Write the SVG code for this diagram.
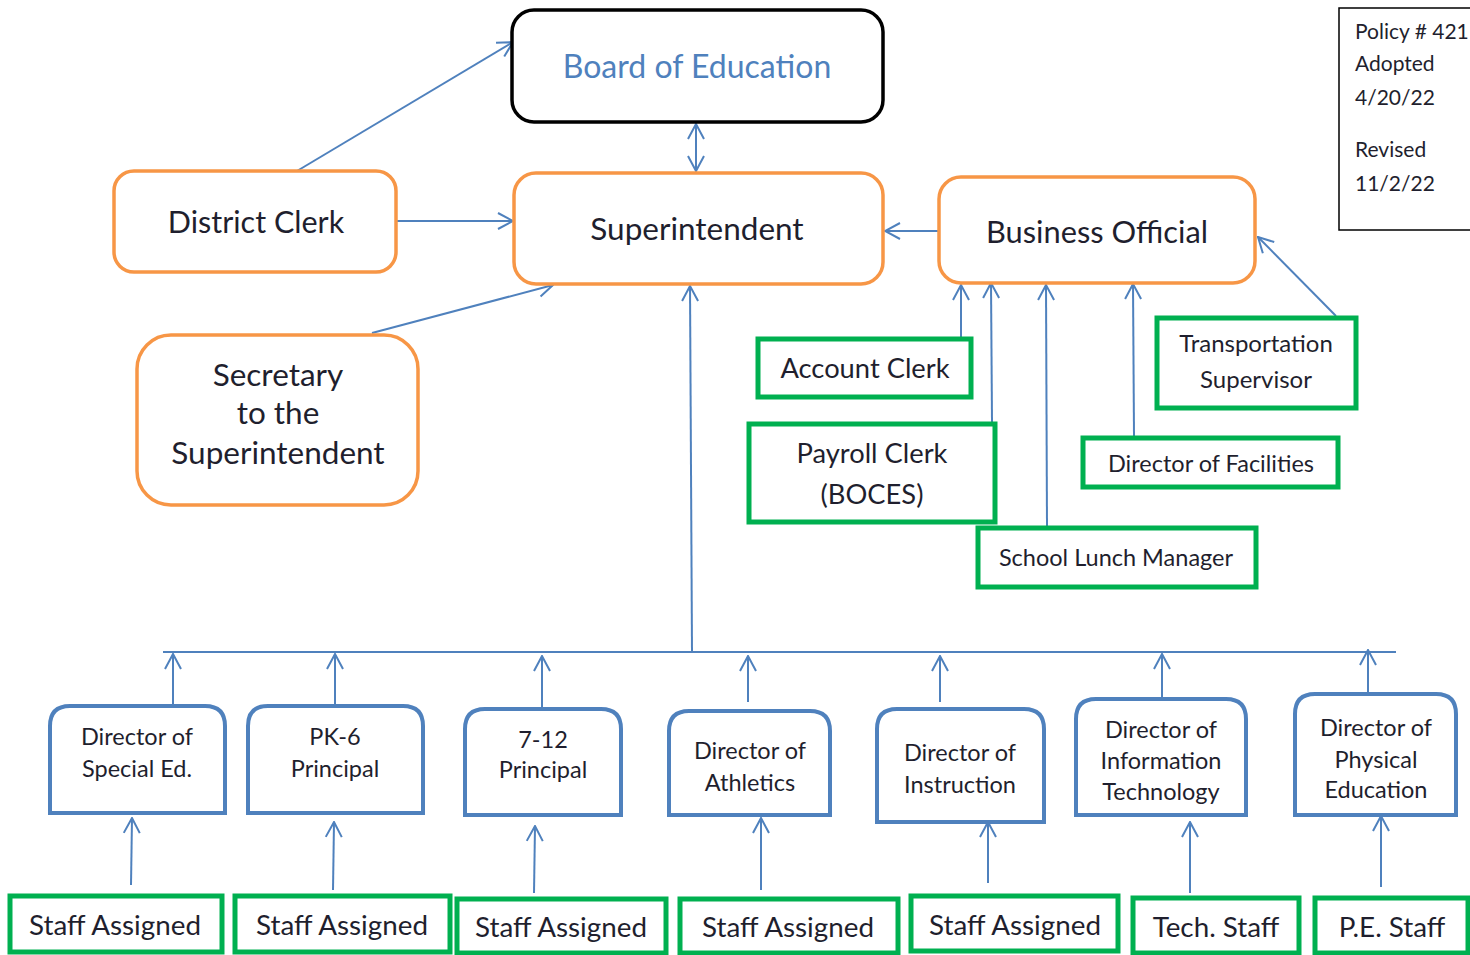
<svg xmlns="http://www.w3.org/2000/svg" width="1470" height="955" viewBox="0 0 1470 955">
<defs>
<marker id="ah" viewBox="0 0 20 20" refX="19" refY="10" markerWidth="20" markerHeight="20" markerUnits="userSpaceOnUse" orient="auto-start-reverse">
<path d="M4,2 L19,10 L4,18" fill="none" stroke="#4F81BD" stroke-width="2"/>
</marker>
<style>
text{font-family:Lato,"Open Sans","Liberation Sans",sans-serif;fill:#1f1f2e;text-anchor:middle}
.or{fill:#fff;stroke:#F79646;stroke-width:3.5}
.gr{fill:#fff;stroke:#00B050;stroke-width:5}
.bl{fill:#fff;stroke:#4F81BD;stroke-width:4}
.cn{fill:none;stroke:#4F81BD;stroke-width:2}
.ar{marker-end:url(#ah)}
.t31{font-size:31.5px}.t30{font-size:30.5px}.t27{font-size:27.3px}.t28{font-size:27.8px}.t23{font-size:23.5px}.t21{font-size:21px}
</style>
</defs>
<rect width="1470" height="955" fill="#fff"/>

<g id="connectors">
<line class="cn ar" x1="297" y1="171" x2="513" y2="42"/>
<line class="cn ar" x1="396" y1="221" x2="513" y2="221"/>
<line class="cn ar" x1="372" y1="333" x2="553" y2="285"/>
<line class="cn ar" x1="939" y1="231" x2="885" y2="231"/>
<line class="cn ar" x1="696" y1="124" x2="696" y2="171" style="marker-start:url(#ah)"/>
<line class="cn ar" x1="692" y1="652" x2="690" y2="286"/>
<line class="cn" x1="163" y1="652" x2="1396" y2="652"/>
<line class="cn ar" x1="961" y1="337" x2="961" y2="285"/>
<line class="cn ar" x1="992" y1="422" x2="991" y2="283"/>
<line class="cn ar" x1="1047" y1="526" x2="1046" y2="285"/>
<line class="cn ar" x1="1134" y1="436" x2="1133" y2="284"/>
<line class="cn ar" x1="1336" y1="316" x2="1258" y2="237"/>
<line class="cn ar" x1="173" y1="704" x2="173" y2="654"/>
<line class="cn ar" x1="335" y1="704" x2="335" y2="654"/>
<line class="cn ar" x1="542" y1="707" x2="542" y2="656"/>
<line class="cn ar" x1="748" y1="702" x2="748" y2="656"/>
<line class="cn ar" x1="940" y1="702" x2="940" y2="656"/>
<line class="cn ar" x1="1162" y1="697" x2="1162" y2="654"/>
<line class="cn ar" x1="1368" y1="692" x2="1368" y2="650"/>
<line class="cn ar" x1="131" y1="885" x2="132" y2="818"/>
<line class="cn ar" x1="333" y1="890" x2="334" y2="822"/>
<line class="cn ar" x1="534" y1="893" x2="535" y2="826"/>
<line class="cn ar" x1="761" y1="890" x2="761" y2="818"/>
<line class="cn ar" x1="988" y1="883" x2="988" y2="822"/>
<line class="cn ar" x1="1190" y1="893" x2="1190" y2="822"/>
<line class="cn ar" x1="1381" y1="887" x2="1381" y2="816"/>
</g>

<g id="board">
<rect x="512" y="10" width="371" height="112" rx="22" fill="#fff" stroke="#000" stroke-width="3.5"/>
<text class="t31" x="697" y="78" style="fill:#4F81BD;font-size:32px">Board of Education</text>
</g>
<g id="superintendent">
<rect class="or" x="514" y="173" width="369" height="111" rx="22"/>
<text class="t31" x="697" y="240">Superintendent</text>
</g>
<g id="district-clerk">
<rect class="or" x="114" y="171" width="282" height="101" rx="20"/>
<text class="t30" x="256" y="233">District Clerk</text>
</g>
<g id="business-official">
<rect class="or" x="939" y="177" width="316" height="106" rx="22"/>
<text class="t30" x="1097" y="243" style="font-size:30.8px">Business Official</text>
</g>
<g id="secretary">
<rect class="or" x="137" y="335" width="281" height="170" rx="34"/>
<text class="t31" x="278" y="386">Secretary</text>
<text class="t31" x="278" y="424">to the</text>
<text class="t31" x="278" y="464">Superintendent</text>
</g>
<g id="policy">
<rect x="1339" y="8" width="140" height="222" fill="#fff" stroke="#000" stroke-width="1.5"/>
<text class="t21" x="1355" y="39" style="text-anchor:start">Policy # 421</text>
<text class="t21" x="1355" y="71" style="text-anchor:start">Adopted</text>
<text class="t21" x="1355" y="105" style="text-anchor:start">4/20/22</text>
<text class="t21" x="1355" y="157" style="text-anchor:start">Revised</text>
<text class="t21" x="1355" y="191" style="text-anchor:start">11/2/22</text>
</g>

<g id="account-clerk">
<rect class="gr" x="758" y="339" width="213" height="58"/>
<text class="t27" x="865" y="378">Account Clerk</text>
</g>
<g id="transportation">
<rect class="gr" x="1157" y="318" width="199" height="90"/>
<text class="t23" x="1256" y="352" style="font-size:24px">Transportation</text>
<text class="t23" x="1256" y="388" style="font-size:24px">Supervisor</text>
</g>
<g id="payroll-clerk">
<rect class="gr" x="749" y="424" width="246" height="98"/>
<text class="t27" x="872" y="463">Payroll Clerk</text>
<text class="t27" x="872" y="504">(BOCES)</text>
</g>
<g id="facilities">
<rect class="gr" x="1083" y="438" width="255" height="49"/>
<text class="t23" x="1211" y="472">Director of Facilities</text>
</g>
<g id="school-lunch">
<rect class="gr" x="978" y="528" width="278" height="59"/>
<text class="t23" x="1116" y="566">School Lunch Manager</text>
</g>

<g id="dir-special-ed">
<path class="bl" d="M50,813 V726 Q50,706 70,706 H205 Q225,706 225,726 V813 Z"/>
<text class="t23" x="137" y="745">Director of</text>
<text class="t23" x="137" y="777">Special Ed.</text>
</g>
<g id="pk6">
<path class="bl" d="M248,813 V726 Q248,706 268,706 H403 Q423,706 423,726 V813 Z"/>
<text class="t23" x="335" y="745">PK-6</text>
<text class="t23" x="335" y="777">Principal</text>
</g>
<g id="p712">
<path class="bl" d="M465,815 V729 Q465,709 485,709 H601 Q621,709 621,729 V815 Z"/>
<text class="t23" x="543" y="748">7-12</text>
<text class="t23" x="543" y="778">Principal</text>
</g>
<g id="athletics">
<path class="bl" d="M669,815 V731 Q669,711 689,711 H810 Q830,711 830,731 V815 Z"/>
<text class="t23" x="750" y="759">Director of</text>
<text class="t23" x="750" y="791">Athletics</text>
</g>
<g id="instruction">
<path class="bl" d="M877,822 V729 Q877,709 897,709 H1024 Q1044,709 1044,729 V822 Z"/>
<text class="t23" x="960" y="761">Director of</text>
<text class="t23" x="960" y="793">Instruction</text>
</g>
<g id="it">
<path class="bl" d="M1076,815 V719 Q1076,699 1096,699 H1226 Q1246,699 1246,719 V815 Z"/>
<text class="t23" x="1161" y="738">Director of</text>
<text class="t23" x="1161" y="769">Information</text>
<text class="t23" x="1161" y="800">Technology</text>
</g>
<g id="pe">
<path class="bl" d="M1295,815 V714 Q1295,694 1315,694 H1436 Q1456,694 1456,714 V815 Z"/>
<text class="t23" x="1376" y="736">Director of</text>
<text class="t23" x="1376" y="768">Physical</text>
<text class="t23" x="1376" y="798">Education</text>
</g>

<g id="staff1"><rect class="gr" x="10" y="896" width="212" height="56"/><text class="t28" x="115" y="935">Staff Assigned</text></g>
<g id="staff2"><rect class="gr" x="235" y="896" width="215" height="56"/><text class="t28" x="342" y="935">Staff Assigned</text></g>
<g id="staff3"><rect class="gr" x="457" y="899" width="209" height="54"/><text class="t28" x="561" y="937">Staff Assigned</text></g>
<g id="staff4"><rect class="gr" x="680" y="899" width="218" height="54"/><text class="t28" x="788" y="937">Staff Assigned</text></g>
<g id="staff5"><rect class="gr" x="911" y="896" width="207" height="55"/><text class="t28" x="1015" y="935">Staff Assigned</text></g>
<g id="tech-staff"><rect class="gr" x="1133" y="898" width="166" height="55"/><text class="t28" x="1216" y="937">Tech. Staff</text></g>
<g id="pe-staff"><rect class="gr" x="1315" y="898" width="153" height="55"/><text class="t28" x="1392" y="937">P.E. Staff</text></g>
</svg>
